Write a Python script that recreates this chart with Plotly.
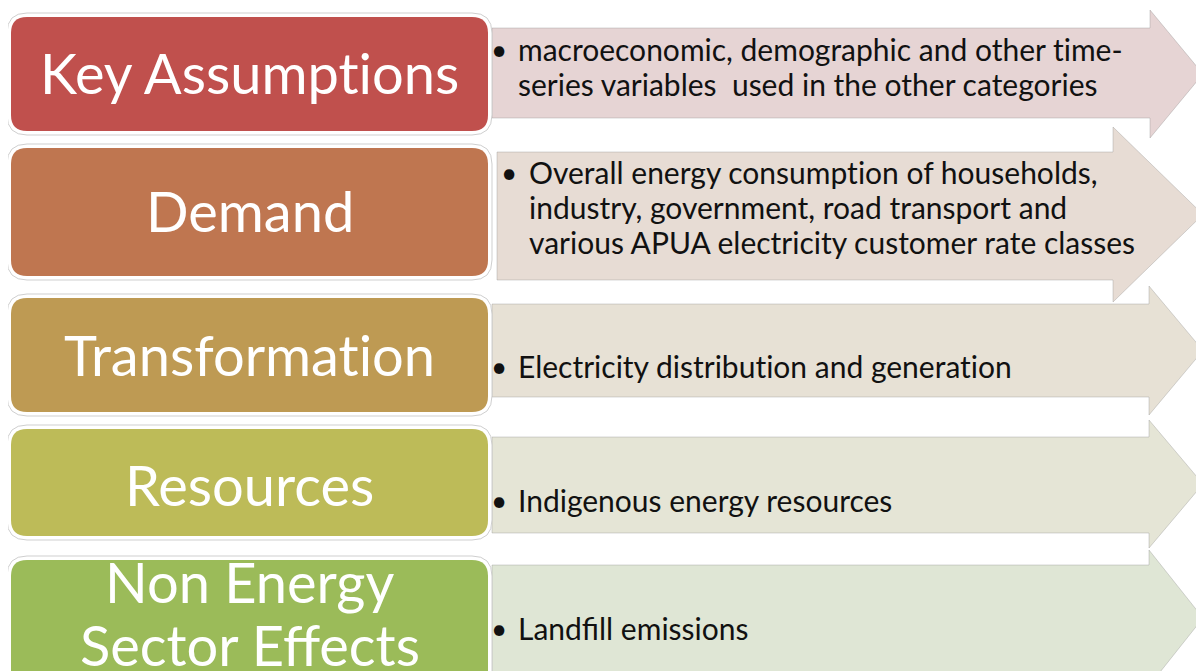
import plotly.graph_objects as go

# ---- content ----
categories = ["Key Assumptions", "Demand", "Transformation", "Resources", "Non Energy<br>Sector Effects"]
descriptions = [
    ["macroeconomic, demographic and other time-", "series variables\u00a0 used in the other categories"],
    ["Overall energy consumption of households,", "industry, government, road transport and",
     "various APUA electricity customer rate classes"],
    ["Electricity distribution and generation"],
    ["Indigenous energy resources"],
    ["Landfill emissions"],
]
box_colors = ["#C0504D", "#BF7650", "#BE9A53", "#BDBB58", "#9BBB59"]
arrow_colors = ["#E6D4D4", "#E7DCD4", "#E7E1D5", "#E5E5D6", "#DFE6D5"]

# ---- layout geometry (pixels) ----
W, H = 1204, 671
PAD = 8  # page body margin compensation
box_x0, box_x1 = 11, 488
box_top = [17, 148, 298, 429, 560]
box_bot = [131, 276, 412, 536, 690]
label_y = [72, 210, 354, 484, 581]
label_lh = 63

arrow_x0 = [492, 497, 492, 492, 492]
arrow_xh = [1150, 1113, 1149, 1149, 1149]
arrow_tip = 1203
body_top = [28, 152, 304, 437, 565]
body_bot = [118, 280, 397, 533, 672]
head_top = [10, 127, 286, 420, 550]
head_bot = [138, 302, 415, 548, 686]

text_center = [66, 207, 366, 500, 628]
text_x = [516, 527, 516, 516, 516]
bullet_x = [499, 509, 499, 499, 499]
line_h = 35


def noliga(s):
    return s.replace("ti", "t\u200ci").replace("tt", "t\u200ct")


def rrect(x0, y0, x1, y1, r):
    return (f"M {x0+r},{y0} L {x1-r},{y0} Q {x1},{y0} {x1},{y0+r} "
            f"L {x1},{y1-r} Q {x1},{y1} {x1-r},{y1} L {x0+r},{y1} "
            f"Q {x0},{y1} {x0},{y1-r} L {x0},{y0+r} Q {x0},{y0} {x0+r},{y0} Z")


shapes = []
annotations = []

# arrows
for i in range(5):
    cy = (head_top[i] + head_bot[i]) / 2
    p = (f"M {arrow_x0[i]},{body_top[i]} L {arrow_xh[i]},{body_top[i]} L {arrow_xh[i]},{head_top[i]} "
         f"L {arrow_tip},{cy} L {arrow_xh[i]},{head_bot[i]} L {arrow_xh[i]},{body_bot[i]} "
         f"L {arrow_x0[i]},{body_bot[i]} Z")
    shapes.append(dict(type="path", path=p, fillcolor=arrow_colors[i],
                       line=dict(color="rgba(140,140,140,0.35)", width=1), layer="below"))

# boxes
for i in range(5):
    shapes.append(dict(type="path", path=rrect(box_x0 - 4, box_top[i] - 4, box_x1 + 4, box_bot[i] + 4, 20),
                       fillcolor="white", line=dict(color="#CFCFCF", width=1), layer="below"))
    shapes.append(dict(type="path", path=rrect(box_x0, box_top[i], box_x1, box_bot[i], 16),
                       fillcolor=box_colors[i], line=dict(width=0), layer="below"))
    for j, part in enumerate(categories[i].split("<br>")):
        annotations.append(dict(x=(box_x0 + box_x1) / 2, y=label_y[i] + j * label_lh, text=noliga(part),
                                showarrow=False, xanchor="center", yanchor="middle",
                                font=dict(family="Lato", size=56, color="white")))

# descriptions
for i, lines in enumerate(descriptions):
    n = len(lines)
    y0 = text_center[i] - (n - 1) / 2 * line_h
    for j, ln in enumerate(lines):
        annotations.append(dict(x=text_x[i], y=y0 + j * line_h, text=noliga(ln), showarrow=False,
                                xanchor="left", yanchor="middle",
                                font=dict(family="Lato", size=30, color="#111111")))
    annotations.append(dict(x=bullet_x[i], y=y0, text="\u2022", showarrow=False, xanchor="center",
                            yanchor="middle", font=dict(family="Lato", size=28, color="#111111")))

fig = go.Figure()
fig.update_layout(
    width=W - PAD, height=H - PAD, margin=dict(l=0, r=0, t=0, b=0),
    paper_bgcolor="white", plot_bgcolor="white",
    xaxis=dict(range=[PAD, W], visible=False, fixedrange=True),
    yaxis=dict(range=[H, PAD], visible=False, fixedrange=True),
    shapes=shapes, annotations=annotations, showlegend=False,
)
fig.write_html("out.html")
